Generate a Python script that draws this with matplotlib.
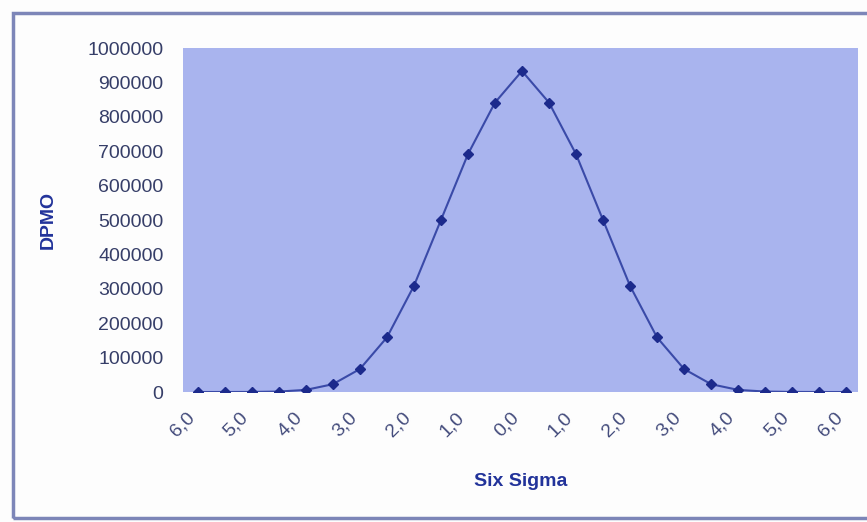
#!/usr/bin/env python3
"""Six Sigma DPMO curve"""

import matplotlib
matplotlib.use('Agg')
import matplotlib.pyplot as plt
from matplotlib.patches import Rectangle

plt.rcParams['font.family'] = ['Liberation Sans', 'DejaVu Sans']

# sigma level for each point (left half descending, right half ascending)
sigma_levels = [6.0, 5.5, 5.0, 4.5, 4.0, 3.5, 3.0, 2.5, 2.0, 1.5, 1.0, 0.5, 0.0,
                0.5, 1.0, 1.5, 2.0, 2.5, 3.0, 3.5, 4.0, 4.5, 5.0, 5.5, 6.0]
dpmo = [3.4, 32, 233, 1350, 6210, 22750, 66807, 158655, 308538, 500000, 691462, 841345, 933193,
        841345, 691462, 500000, 308538, 158655, 66807, 22750, 6210, 1350, 233, 32, 3.4]
y_ticks = list(range(0, 1000001, 100000))

fig = plt.figure(figsize=(8.67, 5.22), dpi=100)
fig.patch.set_facecolor('#fdfdfd')

# outer chart frame
fig.patches.append(Rectangle((0.015, 0.008), 1.2, 0.967, transform=fig.transFigure,
                             fill=False, edgecolor='#7d86b8', linewidth=2.5))

ax = fig.add_axes([0.211, 0.249, 0.779, 0.659])
ax.set_facecolor('#a9b4ee')

x = list(range(len(dpmo)))
ax.plot(x, dpmo, '-', color='#3a4aa8', linewidth=1.5, marker='D',
        markersize=5.5, markerfacecolor='#1c2a8c', markeredgecolor='#1c2a8c')

ax.set_xlim(-0.55, len(dpmo) - 0.55)
ax.set_ylim(0, 1000000)
ax.set_yticks(y_ticks)
ax.set_yticklabels([str(v) for v in y_ticks], fontsize=14, color='#363e68')

tick_pos = x[::2]
ax.set_xticks(tick_pos)
ax.set_xticklabels([f'{sigma_levels[i]:.1f}'.replace('.', ',') for i in tick_pos],
                   rotation=45, ha='right', fontsize=14, color='#444c7c')

ax.tick_params(axis='both', length=0)
ax.tick_params(axis='y', pad=14)
ax.tick_params(axis='x', pad=12)
for s in ax.spines.values():
    s.set_visible(False)

ax.set_xlabel('Six Sigma', fontsize=14, fontweight='bold', color='#22339a', labelpad=24)
ax.set_ylabel('DPMO', fontsize=14, fontweight='bold', color='#22339a', labelpad=22)

plt.savefig('out.png', dpi=100, facecolor=fig.get_facecolor())
plt.close()
